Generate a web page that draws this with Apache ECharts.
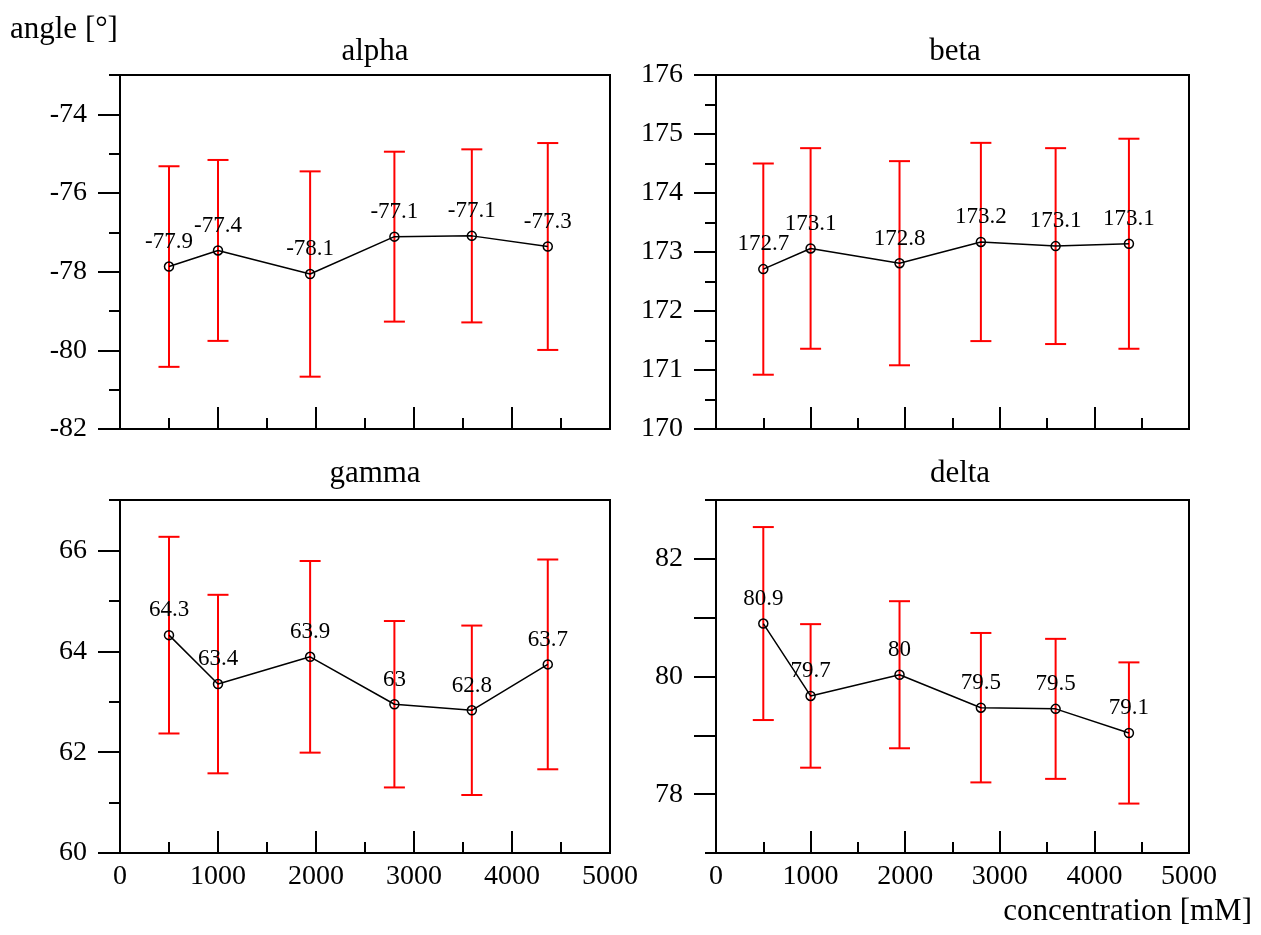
<!DOCTYPE html>
<html><head><meta charset="utf-8">
<script src="https://cdn.jsdelivr.net/npm/echarts@6/dist/echarts.min.js"></script>
<style>html,body{margin:0;padding:0;background:#fff}#c{width:1261px;height:935px}</style>
</head><body><div id="c"></div>
<script>
// ---- data ----
const concentration = [500, 1000, 1940, 2800, 3590, 4365];

const alphaMean = [-77.87, -77.46, -78.06, -77.11, -77.09, -77.36];
const alphaErr  = [2.55, 2.30, 2.61, 2.16, 2.20, 2.63];
const alphaText = ['-77.9', '-77.4', '-78.1', '-77.1', '-77.1', '-77.3'];

const betaMean = [172.71, 173.06, 172.81, 173.17, 173.10, 173.14];
const betaErr  = [1.79, 1.70, 1.73, 1.68, 1.66, 1.78];
const betaText = ['172.7', '173.1', '172.8', '173.2', '173.1', '173.1'];

const gammaMean = [64.32, 63.35, 63.89, 62.95, 62.83, 63.74];
const gammaErr  = [1.95, 1.77, 1.90, 1.65, 1.68, 2.08];
const gammaText = ['64.3', '63.4', '63.9', '63', '62.8', '63.7'];

const deltaMean = [80.90, 79.67, 80.03, 79.47, 79.45, 79.04];
const deltaErr  = [1.64, 1.22, 1.25, 1.27, 1.19, 1.20];
const deltaText = ['80.9', '79.7', '80', '79.5', '79.5', '79.1'];

const xTickLabels = [0, 1000, 2000, 3000, 4000, 5000];

const alphaTickLabels = [-82, -80, -78, -76, -74];
const alphaMajorTicks = [-82, -80, -78, -76, -74];
const alphaMinorTicks = [-81, -79, -77, -75, -73];

const betaTickLabels = [170, 171, 172, 173, 174, 175, 176];
const betaMajorTicks = [170, 171, 172, 173, 174, 175, 176];
const betaMinorTicks = [170.5, 171.5, 172.5, 173.5, 174.5, 175.5];

const gammaTickLabels = [60, 62, 64, 66];
const gammaMajorTicks = [60, 62, 64, 66];
const gammaMinorTicks = [61, 63, 65, 67];

const deltaTickLabels = [78, 80, 82];
const deltaMajorTicks = [78, 79, 80, 81, 82];
const deltaMinorTicks = [77, 83];

const titles = ['alpha', 'beta', 'gamma', 'delta'];

// ---- layout / style ----
const FONT = 'Liberation Serif';
const panels = [
  {grid: {left: 120, top: 75, width: 490, height: 354}, min: -82, max: -73, mean: alphaMean, err: alphaErr, text: alphaText, labels: alphaTickLabels, major: alphaMajorTicks, minor: alphaMinorTicks, xLabels: false, tx: 375, ty: 52},
  {grid: {left: 716, top: 75, width: 473, height: 354}, min: 170, max: 176, mean: betaMean, err: betaErr, text: betaText, labels: betaTickLabels, major: betaMajorTicks, minor: betaMinorTicks, xLabels: false, tx: 955, ty: 52},
  {grid: {left: 120, top: 500, width: 490, height: 353}, min: 60, max: 67, mean: gammaMean, err: gammaErr, text: gammaText, labels: gammaTickLabels, major: gammaMajorTicks, minor: gammaMinorTicks, xLabels: true, tx: 375, ty: 474},
  {grid: {left: 716, top: 500, width: 473, height: 353}, min: 77, max: 83, mean: deltaMean, err: deltaErr, text: deltaText, labels: deltaTickLabels, major: deltaMajorTicks, minor: deltaMinorTicks, xLabels: true, tx: 960, ty: 474}
];

const grids = [], xAxes = [], yAxes = [], series = [], graphics = [];
panels.forEach((p, i) => {
  grids.push(Object.assign({show: true, borderColor: '#000', borderWidth: 2, backgroundColor: 'transparent', containLabel: false}, p.grid));
  xAxes.push({
    type: 'value', gridIndex: i, min: 0, max: 5000, interval: 1000,
    axisLine: {show: true, onZero: false, lineStyle: {color: '#000', width: 2}},
    axisTick: {show: true, inside: true, length: 22, lineStyle: {color: '#000', width: 2}},
    minorTick: {show: true, splitNumber: 2, length: 11, lineStyle: {color: '#000', width: 2}},
    splitLine: {show: false}, minorSplitLine: {show: false},
    axisLabel: {show: p.xLabels, margin: 10, color: '#000', fontFamily: FONT, fontSize: 28,
      customValues: xTickLabels, formatter: v => String(v)}
  });
  // major axis with labels
  yAxes.push({
    type: 'value', gridIndex: i, min: p.min, max: p.max, position: 'left',
    axisLine: {show: true, onZero: false, lineStyle: {color: '#000', width: 2}},
    axisTick: {show: true, inside: false, length: 22, customValues: p.major, lineStyle: {color: '#000', width: 2}},
    splitLine: {show: false},
    axisLabel: {show: true, margin: 33, color: '#000', fontFamily: FONT, fontSize: 28,
      customValues: p.labels, formatter: v => String(v)}
  });
  // minor tick axis
  yAxes.push({
    type: 'value', gridIndex: i, min: p.min, max: p.max, position: 'left',
    axisLine: {show: true, onZero: false, lineStyle: {color: '#000', width: 2}},
    axisTick: {show: true, inside: false, length: 11, customValues: p.minor, lineStyle: {color: '#000', width: 2}},
    splitLine: {show: false},
    axisLabel: {show: false, customValues: p.minor}
  });
  series.push({
    type: 'custom', xAxisIndex: i, yAxisIndex: 2 * i, z: 2,
    data: concentration.map((c, k) => [c, p.mean[k], p.err[k]]),
    renderItem: (params, api) => {
      const x = api.value(0), y = api.value(1), e = api.value(2);
      const t = api.coord([x, y + e]), b = api.coord([x, y - e]);
      const hw = 10.5;
      const st = {stroke: '#ff0000', lineWidth: 2};
      return {type: 'group', children: [
        {type: 'line', shape: {x1: t[0], y1: t[1], x2: b[0], y2: b[1]}, style: st},
        {type: 'line', shape: {x1: t[0] - hw, y1: t[1], x2: t[0] + hw, y2: t[1]}, style: st},
        {type: 'line', shape: {x1: b[0] - hw, y1: b[1], x2: b[0] + hw, y2: b[1]}, style: st}
      ]};
    }
  });
  series.push({
    type: 'line', xAxisIndex: i, yAxisIndex: 2 * i, z: 3,
    data: concentration.map((c, k) => [c, p.mean[k]]),
    symbol: 'circle', symbolSize: 9,
    lineStyle: {color: '#000', width: 1.5},
    itemStyle: {color: 'rgba(0,0,0,0)', borderColor: '#000', borderWidth: 1.5},
    label: {show: true, position: 'top', distance: 8, color: '#000', fontFamily: FONT, fontSize: 23,
      formatter: prm => p.text[prm.dataIndex]},
    emphasis: {disabled: true}
  });
  graphics.push({type: 'text', x: p.tx, y: p.ty, style: {text: titles[i], fill: '#000', font: '31px "' + FONT + '"', align: 'center', verticalAlign: 'middle'}});
});
graphics.push({type: 'text', x: 10, y: 30, style: {text: 'angle [°]', fill: '#000', font: '31px "' + FONT + '"', align: 'left', verticalAlign: 'middle'}});
graphics.push({type: 'text', x: 1252, y: 912, style: {text: 'concentration [mM]', fill: '#000', font: '31px "' + FONT + '"', align: 'right', verticalAlign: 'middle'}});

const chart = echarts.init(document.getElementById('c'), null, {renderer: 'canvas'});
chart.setOption({
  animation: false,
  backgroundColor: '#fff',
  grid: grids, xAxis: xAxes, yAxis: yAxes, series: series,
  graphic: graphics,
  tooltip: {show: false}
});
</script></body></html>
